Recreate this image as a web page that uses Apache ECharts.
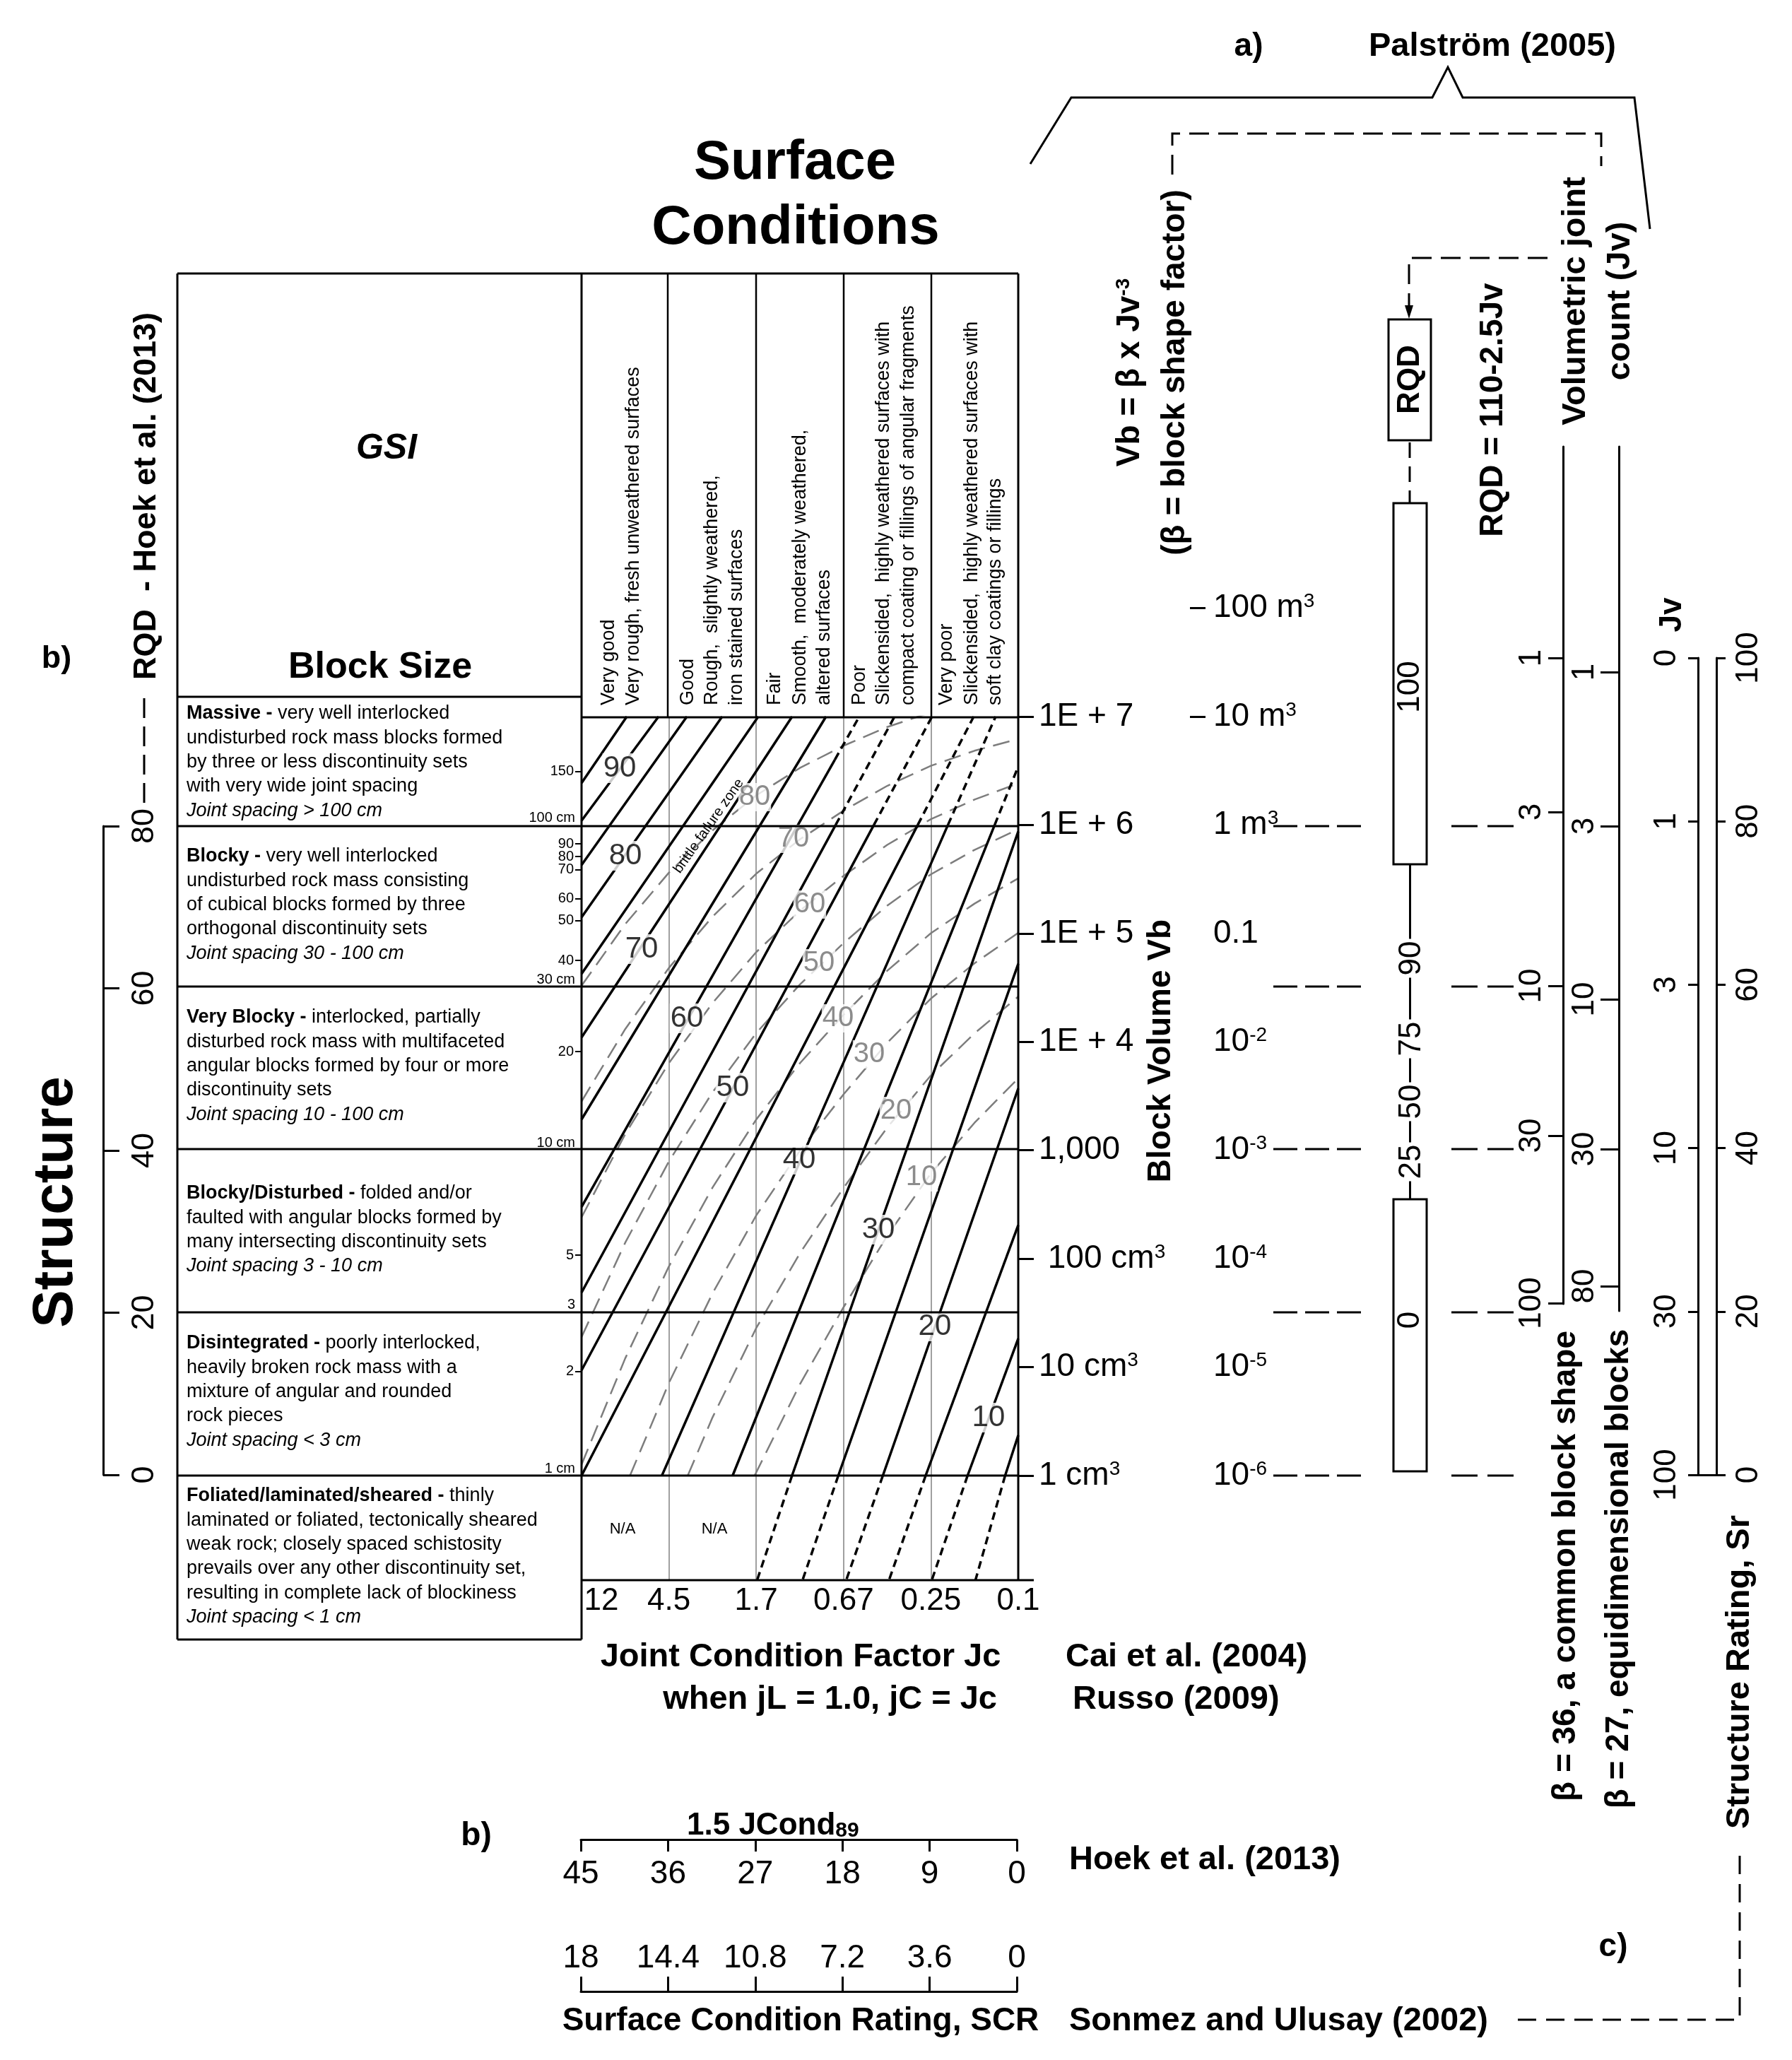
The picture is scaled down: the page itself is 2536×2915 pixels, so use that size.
<!DOCTYPE html>
<html>
<head>
<meta charset="utf-8">
<script src="https://cdn.jsdelivr.net/npm/echarts@6.0.0/dist/echarts.min.js"></script>
<style>html,body{margin:0;padding:0;background:#fff;}#chart{width:2536px;height:2915px;}</style>
</head>
<body>
<div id="chart"></div>
<script>
// ===================== DATA =====================
// Joint condition factor Jc (column boundaries of the surface-condition part)
const jcLabels = ['12', '4.5', '1.7', '0.67', '0.25', '0.1'];
// Bottom rating scales
const jcondTicks = [45, 36, 27, 18, 9, 0];
const scrTicks = [18, 14.4, 10.8, 7.2, 3.6, 0];
// Block volume scale (y unit = log10 of Vb in cm3)
const vbCmPos = [0, 1, 2, 3, 4, 5, 6, 7];
const vbCmLabels = ['1 cm{sup|3}', '10 cm{sup|3}', ' 100 cm{sup|3}', '1,000', '1E + 4', '1E + 5', '1E + 6', '1E + 7'];
const vbM3Pos = [0, 1, 2, 3, 4, 5, 6, 7, 8];
const vbM3Labels = ['10{sup|-6}', '10{sup|-5}', '10{sup|-4}', '10{sup|-3}', '10{sup|-2}', '0.1', '1 m{sup|3}', '10 m{sup|3}', '100 m{sup|3}'];
const vbM3TickPos = [7, 8];
// Joint spacing marks along the left edge of the chart (same y unit)
const spacingTickPos = [6.492, 5.826, 5.708, 5.590, 5.323, 5.121, 4.750, 3.910, 2.033, 0.961];
const spacingTickLabels = ['150', '90', '80', '70', '60', '50', '40', '20', '5', '2'];
const spacingCmPos = [6.0, 4.51, 3.0, 1.51, 0];
const spacingCmLabels = ['100 cm', '30 cm', '10 cm', '3', '1 cm'];
// Palstrom Jv scales (positions on the block-volume scale)
const jv36Pos = [7.541, 6.120, 4.517, 3.135, 1.590];
const jv36Labels = ['1', '3', '10', '30', '100'];
const jv27Pos = [7.411, 5.990, 4.393, 3.011, 1.747];
const jv27Labels = ['1', '3', '10', '30', '80'];
// Sonmez & Ulusay Jv / structure rating scale (positions in Sr units)
const jvSrPos = [100, 80, 60, 40, 20, 0];
const jvSrLabels = ['0', '1', '3', '10', '30', '100'];
// RQD bar
const rqdPos = [4.771, 4.028, 3.448, 2.894];
const rqdLabels = ['90', '75', '50', '25'];
const rqdBoxes = [[5.638, 8.968], [0.039, 2.548]];
const rqdBoxLabels = ['100', '0'];
const rqdBoxLabelPos = [7.274, 1.434];

// GSI contours, Cai et al. (2004) - black  (x = Jc column position 0..5, y = log10 Vb)
const caiSolid = [
  [[0, 6.387], [0.518, 7]],      // 95
  [[0, 6.040], [0.882, 7]],      // 90
  [[0, 5.631], [1.206, 7]],      // 85
  [[0, 5.149], [1.610, 7]],      // 80
  [[0, 4.627], [2.023, 7]],      // 75
  [[0, 4.041], [2.411, 7]],      // 70
  [[0, 3.285], [2.799, 7]],      // 65
  [[0, 2.477], [2.900, 6.602]],  // 60
  [[0, 1.688], [2.909, 6]],      // 55
  [[0, 0.971], [3.347, 6]],      // 50
  [[0, 0], [3.849, 6]],          // 45
  [[0.92, 0], [4.195, 6]],       // 40
  [[1.73, 0], [4.730, 6]],       // 35
  [[2.41, 0], [5, 5.94]],        // 30
  [[2.94, 0], [5, 4.72]],        // 25
  [[3.45, 0], [5, 3.57]],        // 20
  [[3.94, 0], [5, 2.31]],        // 15
  [[4.42, 0], [5, 1.264]],       // 10
  [[4.85, 0], [5, 0.371]]        // 5
];
const caiDashed = [
  [[2.900, 6.602], [3.180, 7]],
  [[2.909, 6], [3.584, 7]],
  [[3.347, 6], [4.013, 7]],
  [[3.849, 6], [4.490, 7]],
  [[4.195, 6], [4.741, 7]],
  [[4.730, 6], [5, 6.54]],
  [[2.41, 0], [2.01, -0.965]],
  [[2.94, 0], [2.53, -0.965]],
  [[3.45, 0], [3.03, -0.965]],
  [[3.94, 0], [3.52, -0.965]],
  [[4.42, 0], [4.01, -0.965]],
  [[4.85, 0], [4.51, -0.965]]
];
const caiLabels = [
  [0.437, 6.524, '90'], [0.502, 5.716, '80'], [0.688, 4.856, '70'], [1.206, 4.217, '60'],
  [1.731, 3.578, '50'], [2.492, 2.913, '40'], [3.398, 2.268, '30'], [4.045, 1.375, '20'], [4.660, 0.534, '10']
];
// GSI contours, Russo (2009) - grey dashed
const russo = [
  [[0, 4.518], [0.5, 5.086], [1, 5.560], [1.5, 5.951], [2, 6.273], [2.5, 6.526], [3, 6.731], [3.5, 6.904], [4, 7.039]],
  [[0, 3.451], [0.5, 4.118], [1, 4.682], [1.5, 5.155], [2, 5.551], [2.5, 5.868], [3, 6.132], [3.5, 6.361], [4, 6.546], [4.5, 6.685], [5, 6.794]],
  [[0, 2.382], [0.5, 3.149], [1, 3.804], [1.5, 4.358], [2, 4.828], [2.5, 5.209], [3, 5.531], [3.5, 5.817], [4, 6.054], [4.5, 6.235], [5, 6.384]],
  [[0, 1.278], [0.5, 2.148], [1, 2.897], [1.5, 3.535], [2, 4.081], [2.5, 4.529], [3, 4.911], [3.5, 5.256], [4, 5.545], [4.5, 5.771], [5, 5.960]],
  [[0, 0.101], [0.5, 1.081], [1, 1.929], [1.5, 2.657], [2, 3.284], [2.5, 3.803], [3, 4.250], [3.5, 4.656], [4, 5.002], [4.5, 5.275], [5, 5.508]],
  [[0.555, 0], [1, 0.854], [1.5, 1.681], [2, 2.399], [2.5, 2.996], [3, 3.516], [3.5, 3.991], [4, 4.399], [4.5, 4.725], [5, 5.006]],
  [[1.216, 0], [1.5, 0.537], [2, 1.361], [2.5, 2.050], [3, 2.654], [3.5, 3.210], [4, 3.691], [4.5, 4.079], [5, 4.417]],
  [[1.982, 0], [2.5, 0.842], [3, 1.553], [3.5, 2.212], [4, 2.787], [4.5, 3.254], [5, 3.664]]
];
const russoLabels = [
  [1.982, 6.257, '80'], [2.427, 5.872, '70'], [2.613, 5.266, '60'], [2.718, 4.725, '50'],
  [2.937, 4.217, '40'], [3.293, 3.884, '30'], [3.600, 3.363, '20'], [3.892, 2.750, '10']
];

// ===================== LAYOUT =====================
const F = '"Liberation Sans", Arial, Helvetica, sans-serif';
const Y0 = 2088, DEC = 153.43;           // pixel of Vb = 1 cm3, pixels per decade
const vy = p => (Y0 - p) / DEC;
const pick = (pos, labels) => v => { const i = pos.findIndex(p => Math.abs(p - v) < 1e-6); return i < 0 ? '' : labels[i]; };
const supRich = { sup: { fontSize: 28, verticalAlign: 'top', fontFamily: F, color: '#000' } };
const hidden = g => ({ gridIndex: g, type: 'value', show: false });

function T(x, y, text, o = {}) {
  const st = {
    text, fill: o.fill || '#000', fontFamily: F, fontSize: o.size || 27,
    fontWeight: o.bold ? 'bold' : 'normal', fontStyle: o.italic ? 'italic' : 'normal',
    align: o.align || 'center', verticalAlign: o.va || 'middle',
    textAlign: o.align || 'center', textVerticalAlign: o.va || 'middle'
  };
  if (o.rich) st.rich = o.rich;
  return { type: 'text', x, y, rotation: o.rot || 0, z: 20, silent: true, style: st };
}
function P(points, o = {}) {
  return { type: 'polyline', z: 15, silent: true, shape: { points },
    style: { stroke: o.color || '#000', lineWidth: o.w || 3, fill: null, lineDash: o.dash || null } };
}
const R90 = Math.PI / 2;

const graphics = [];
// ---- table frame ----
graphics.push(P([[251, 387], [1441, 387]]));
graphics.push(P([[251, 387], [251, 2320]]));
graphics.push(P([[251, 2320], [823, 2320]]));
graphics.push(P([[823, 387], [823, 2320]]));
graphics.push(P([[1441, 387], [1441, 2236]]));
[945, 1070, 1194, 1318].forEach(x => graphics.push(P([[x, 387], [x, 1015]], { w: 2.5 })));
graphics.push(P([[823, 1015], [1441, 1015]]));
graphics.push(P([[251, 986], [823, 986]]));
[1169, 1396, 1626, 1857, 2088].forEach(y => graphics.push(P([[251, y], [1441, y]])));
graphics.push(P([[823, 2236], [1463, 2236]]));

// ---- titles ----
graphics.push(T(1125, 231, 'Surface', { size: 78, bold: true }));
graphics.push(T(1126, 323, 'Conditions', { size: 78, bold: true }));
graphics.push(T(547, 635, 'GSI', { size: 50, bold: true, italic: true }));
graphics.push(T(538, 945, 'Block Size', { size: 52, bold: true }));
graphics.push(T(80, 1701, 'Structure', { size: 80, bold: true, rot: R90 }));
graphics.push(T(208, 702, 'RQD  - Hoek et al. (2013)', { size: 45, bold: true, rot: R90 }));
graphics.push(T(80, 933, 'b)', { size: 45, bold: true }));
graphics.push(P([[204, 988], [204, 1141]], { dash: [28, 12] }));

// ---- surface condition column headers ----
const headers = [
  [862, 'Very good'], [897, 'Very rough, fresh unweathered surfaces'],
  [974, 'Good'], [1008, 'Rough,  slightly weathered,'], [1043, 'iron stained surfaces'],
  [1097, 'Fair'], [1133, 'Smooth,  moderately weathered,'], [1167, 'altered surfaces'],
  [1217, 'Poor'], [1251, 'Slickensided,  highly weathered surfaces with'], [1286, 'compact coating or fillings of angular fragments'],
  [1340, 'Very poor'], [1376, 'Slickensided,  highly weathered surfaces with'], [1409, 'soft clay coatings or fillings']
];
headers.forEach(h => graphics.push(T(h[0], 998, h[1], { size: 27, rot: R90, align: 'left' })));

// ---- structure descriptions ----
const descRich = {
  b: { fontWeight: 'bold', fontSize: 27, fontFamily: F, color: '#000' },
  i: { fontStyle: 'italic', fontSize: 27, fontFamily: F, color: '#000' }
};
const descRows = [
  [1010, ['{b|Massive - }very well interlocked', 'undisturbed rock mass blocks formed', 'by three or less discontinuity sets', 'with very wide joint spacing', '{i|Joint spacing > 100 cm}']],
  [1212, ['{b|Blocky - }very well interlocked', 'undisturbed rock mass consisting', 'of cubical blocks formed by three', 'orthogonal discontinuity sets', '{i|Joint spacing 30 - 100 cm}']],
  [1440, ['{b|Very Blocky - }interlocked, partially', 'disturbed rock mass with multifaceted', 'angular blocks formed by four or more', 'discontinuity sets', '{i|Joint spacing 10 - 100 cm}']],
  [1689, ['{b|Blocky/Disturbed - }folded and/or', 'faulted with angular blocks formed by', 'many intersecting discontinuity sets', '{i|Joint spacing 3 - 10 cm}']],
  [1901, ['{b|Disintegrated - }poorly interlocked,', 'heavily broken rock mass with a', 'mixture of angular and rounded', 'rock pieces', '{i|Joint spacing < 3 cm}']],
  [2117, ['{b|Foliated/laminated/sheared - }thinly', 'laminated or foliated, tectonically sheared', 'weak rock; closely spaced schistosity', 'prevails over any other discontinuity set,', 'resulting in complete lack of blockiness', '{i|Joint spacing < 1 cm}']]
];
descRows.forEach(r => r[1].forEach((line, k) => graphics.push(T(264, r[0] + k * 34.3, line, { size: 27, align: 'left', rich: descRich }))));

graphics.push(T(881, 2164, 'N/A', { size: 22 }));
graphics.push(T(1011, 2164, 'N/A', { size: 22 }));
graphics.push(T(1003, 1169, 'brittle failure zone', { size: 20, rot: 0.96 }));

// ---- bottom texts ----
graphics.push(T(1133, 2345, 'Joint Condition Factor Jc', { size: 47, bold: true }));
graphics.push(T(1411, 2405, 'when jL = 1.0, jC = Jc', { size: 47, bold: true, align: 'right' }));
graphics.push(T(1508, 2345, 'Cai et al. (2004)', { size: 47, bold: true, align: 'left' }));
graphics.push(T(1518, 2405, 'Russo (2009)', { size: 47, bold: true, align: 'left' }));
graphics.push(T(674, 2598, 'b)', { size: 46, bold: true }));
graphics.push(T(972, 2584, '{a|1.5 JCond}{s|89}', { size: 44, bold: true, align: 'left',
  rich: { a: { fontSize: 44, fontWeight: 'bold', fontFamily: F, color: '#000' }, s: { fontSize: 30, fontWeight: 'bold', fontFamily: F, color: '#000', verticalAlign: 'bottom' } } }));
graphics.push(T(1513, 2632, 'Hoek et al. (2013)', { size: 47, bold: true, align: 'left' }));
graphics.push(T(1133, 2860, 'Surface Condition Rating, SCR', { size: 46, bold: true }));
graphics.push(T(1513, 2860, 'Sonmez and Ulusay (2002)', { size: 47, bold: true, align: 'left' }));

// ---- right side texts ----
graphics.push(T(1767, 66, 'a)', { size: 46, bold: true }));
graphics.push(T(2112, 66, 'Palström (2005)', { size: 47, bold: true }));
graphics.push(T(1599, 527, '{a|Vb = β x Jv}{s|-3}', { size: 46, bold: true, rot: R90,
  rich: { a: { fontSize: 46, fontWeight: 'bold', fontFamily: F, color: '#000' }, s: { fontSize: 28, fontWeight: 'bold', fontFamily: F, color: '#000', verticalAlign: 'top' } } }));
graphics.push(T(1663, 527, '(β = block shape factor)', { size: 46, bold: true, rot: R90 }));
graphics.push(T(2113, 580, 'RQD = 110-2.5Jv', { size: 46, bold: true, rot: R90 }));
graphics.push(T(2230, 426, 'Volumetric joint', { size: 47, bold: true, rot: R90 }));
graphics.push(T(2293, 426, 'count (Jv)', { size: 47, bold: true, rot: R90 }));
graphics.push({ type: 'rect', z: 15, silent: true, shape: { x: 1965, y: 452, width: 60, height: 171 }, style: { fill: '#fff', stroke: '#000', lineWidth: 3 } });
graphics.push(T(1996, 537, 'RQD', { size: 44, bold: true, rot: R90 }));
graphics.push(T(1643, 1487, 'Block Volume Vb', { size: 46, bold: true, rot: R90 }));
graphics.push(T(2367, 870, 'Jv', { size: 44, bold: true, rot: R90 }));
graphics.push(T(2216, 2216, 'β = 36, a common block shape', { size: 46, bold: true, rot: R90 }));
graphics.push(T(2291, 2220, 'β = 27, equidimensional blocks', { size: 46, bold: true, rot: R90 }));
graphics.push(T(2462, 2366, 'Structure Rating, Sr', { size: 47, bold: true, rot: R90 }));
graphics.push(T(2283, 2755, 'c)', { size: 46, bold: true }));

// ---- brackets & connectors ----
graphics.push(P([[1458, 232], [1516, 138], [2027, 138], [2049, 95], [2070, 138], [2313, 138], [2335, 324]]));
graphics.push(P([[1659, 247], [1659, 189], [2266, 189], [2266, 235]], { dash: [28, 13] }));
graphics.push(P([[2190, 365], [1994, 365], [1994, 440]], { dash: [28, 13] }));
graphics.push({ type: 'polygon', z: 15, silent: true, shape: { points: [[1988, 432], [2000, 432], [1994, 451]] }, style: { fill: '#000' } });
graphics.push(P([[1995, 626], [1995, 712]], { dash: [22, 12] }));
[1169, 1396, 1626, 1857, 2088].forEach(y => {
  graphics.push(P([[1802, y], [1936, y]], { dash: [34, 11] }));
  graphics.push(P([[2054, y], [2143, y]], { dash: [37, 14] }));
});
graphics.push(P([[2462, 2626], [2462, 2858], [2143, 2858]], { dash: [26, 14] }));

// ===================== AXES & SERIES =====================
const TOP = Y0 - 7 * DEC;
const YMIN = vy(2236);
const lab = (size, extra = {}) => Object.assign({ fontSize: size, fontFamily: F, color: '#000' }, extra);
const blackLine = { onZero: false, lineStyle: { color: '#000', width: 3 } };

const grids = [
  { left: 823, top: TOP, width: 618, height: 2236 - TOP },               // 0 main GSI chart
  { left: 1674, top: Y0 - 8 * DEC, width: 10, height: 8 * DEC },         // 1 m3 scale
  { left: 136, top: 1169, width: 10, height: 918 },                      // 2 structure / RQD (Hoek)
  { left: 822, top: 2603, width: 617, height: 40 },                      // 3 1.5 JCond89 (axis on top edge)
  { left: 822, top: 2818, width: 617, height: 40 },                      // 4 SCR
  { left: 2212, top: 632, width: 10, height: 1213 },                     // 5 Jv beta 36
  { left: 2291, top: 632, width: 10, height: 1223 },                     // 6 Jv beta 27
  { left: 2403, top: 931, width: 26, height: 1156 },                     // 7 Jv / Sr
  { left: 1972, top: 1223, width: 47, height: 474 }                      // 8 RQD bar
];

const xAxes = [
  { gridIndex: 0, type: 'value', min: 0, max: 5, interval: 1, position: 'bottom',
    axisLine: { show: false, onZero: false }, axisTick: { show: false },
    splitLine: { show: true, lineStyle: { color: '#a0a0a0', width: 2 } },
    axisLabel: lab(44, { margin: 8, formatter: v => v === 0 ? '{l|' + jcLabels[0] + '}' : jcLabels[Math.round(v)],
      rich: { l: { fontSize: 44, fontFamily: F, color: '#000', padding: [0, 0, 0, 56] } } }) },
  hidden(1), hidden(2),
  { gridIndex: 3, type: 'value', min: 0, max: 45, inverse: true, position: 'top',
    axisLine: blackLine, splitLine: { show: false },
    axisTick: { show: true, inside: true, customValues: jcondTicks, length: 17, lineStyle: { color: '#000', width: 3 } },
    axisLabel: lab(46, { inside: true, customValues: jcondTicks, margin: 26 }) },
  { gridIndex: 4, type: 'value', min: 0, max: 18, inverse: true, position: 'top',
    axisLine: blackLine, splitLine: { show: false },
    axisTick: { show: true, inside: false, customValues: scrTicks, length: 21, lineStyle: { color: '#000', width: 3 } },
    axisLabel: lab(46, { customValues: scrTicks, margin: 24, formatter: v => String(Math.round(v * 10) / 10) }) },
  hidden(5), hidden(6),
  { gridIndex: 7, type: 'value', min: 0, max: 1, axisLine: blackLine, axisTick: { show: false }, axisLabel: { show: false }, splitLine: { show: false } },
  { gridIndex: 8, type: 'value', min: -1, max: 1, show: false }
];

const yAxes = [
  // 0: block volume labels (cm3 / scientific)
  { gridIndex: 0, type: 'value', min: YMIN, max: 7, position: 'right', offset: 0,
    axisLine: { show: false, onZero: false }, splitLine: { show: false },
    axisTick: { customValues: vbCmPos, length: 22, lineStyle: { color: '#000', width: 3 } },
    axisLabel: lab(46, { customValues: vbCmPos, margin: 29, formatter: pick(vbCmPos, vbCmLabels), rich: supRich }) },
  // 1: joint spacing ticks
  { gridIndex: 0, type: 'value', min: YMIN, max: 7, position: 'left', offset: 0,
    axisLine: { show: false, onZero: false }, splitLine: { show: false },
    axisTick: { customValues: spacingTickPos, length: 9, lineStyle: { color: '#000', width: 2 } },
    axisLabel: lab(20, { customValues: spacingTickPos, margin: 11, formatter: pick(spacingTickPos, spacingTickLabels) }) },
  // 2: joint spacing boundaries (labels sit above the row lines)
  { gridIndex: 0, type: 'value', min: YMIN, max: 7, position: 'left', offset: 0,
    axisLine: { show: false, onZero: false }, splitLine: { show: false }, axisTick: { show: false },
    axisLabel: lab(20, { customValues: spacingCmPos, margin: 9, verticalAlign: 'bottom', formatter: pick(spacingCmPos, spacingCmLabels) }) },
  // 3: m3 labels
  { gridIndex: 1, type: 'value', min: 0, max: 8, position: 'right', offset: 0,
    axisLine: { show: false, onZero: false }, splitLine: { show: false },
    axisTick: { customValues: vbM3TickPos, length: 22, lineStyle: { color: '#000', width: 3 } },
    axisLabel: lab(46, { customValues: vbM3Pos, margin: 33, formatter: pick(vbM3Pos, vbM3Labels), rich: supRich }) },
  // 4: structure (RQD Hoek) scale
  { gridIndex: 2, type: 'value', min: 0, max: 80, interval: 20, position: 'right',
    axisLine: blackLine, splitLine: { show: false },
    axisTick: { length: 23, lineStyle: { color: '#000', width: 3 } },
    axisLabel: lab(45, { rotate: 90, margin: 36 }) },
  hidden(3), hidden(4),
  // 7: Jv beta=36
  { gridIndex: 5, type: 'value', min: vy(1845), max: vy(632), position: 'left',
    axisLine: blackLine, splitLine: { show: false },
    axisTick: { customValues: jv36Pos, length: 21, lineStyle: { color: '#000', width: 3 } },
    axisLabel: lab(44, { customValues: jv36Pos, rotate: 90, margin: 22, formatter: pick(jv36Pos, jv36Labels) }) },
  // 8: Jv beta=27
  { gridIndex: 6, type: 'value', min: vy(1855), max: vy(632), position: 'left',
    axisLine: blackLine, splitLine: { show: false },
    axisTick: { customValues: jv27Pos, length: 26, lineStyle: { color: '#000', width: 3 } },
    axisLabel: lab(44, { customValues: jv27Pos, rotate: 90, margin: 26, formatter: pick(jv27Pos, jv27Labels) }) },
  // 9: Jv (Sonmez & Ulusay)
  { gridIndex: 7, type: 'value', min: 0, max: 100, position: 'left',
    axisLine: blackLine, splitLine: { show: false },
    axisTick: { customValues: jvSrPos, length: 14, lineStyle: { color: '#000', width: 3 } },
    axisLabel: lab(44, { customValues: jvSrPos, rotate: 90, margin: 22, formatter: pick(jvSrPos, jvSrLabels) }) },
  // 10: Structure rating Sr
  { gridIndex: 7, type: 'value', min: 0, max: 100, interval: 20, position: 'right',
    axisLine: blackLine, splitLine: { show: false },
    axisTick: { length: 13, lineStyle: { color: '#000', width: 3 } },
    axisLabel: lab(44, { rotate: 90, margin: 24 }) },
  // 11: RQD bar
  { gridIndex: 8, type: 'value', min: vy(1697), max: vy(1223), position: 'left', offset: -23.5,
    axisLine: blackLine, splitLine: { show: false }, axisTick: { show: false },
    axisLabel: lab(44, { customValues: rqdPos, rotate: 90, margin: -24, backgroundColor: '#fff', padding: [0, 3],
      formatter: pick(rqdPos, rqdLabels) }) }
];

const series = [];
caiSolid.forEach(pts => series.push({ type: 'line', xAxisIndex: 0, yAxisIndex: 0, data: pts, symbol: 'none', silent: true, z: 3,
  lineStyle: { color: '#000', width: 3.5 } }));
caiDashed.forEach(pts => series.push({ type: 'line', xAxisIndex: 0, yAxisIndex: 0, data: pts, symbol: 'none', silent: true, z: 3,
  lineStyle: { color: '#000', width: 3.5, type: [11, 7] } }));
russo.forEach(pts => series.push({ type: 'line', xAxisIndex: 0, yAxisIndex: 0, data: pts, symbol: 'none', silent: true, z: 2,
  lineStyle: { color: '#7d7d7d', width: 2.5, type: [24, 12] } }));
series.push({ type: 'scatter', xAxisIndex: 0, yAxisIndex: 0, data: caiLabels, symbolSize: 1, silent: true, z: 6,
  itemStyle: { color: 'rgba(0,0,0,0)' },
  label: { show: true, position: 'inside', formatter: p => p.data[2], fontSize: 42, fontFamily: F, color: '#000', backgroundColor: '#fff', padding: [0, 1] } });
series.push({ type: 'scatter', xAxisIndex: 0, yAxisIndex: 0, data: russoLabels, symbolSize: 1, silent: true, z: 6,
  itemStyle: { color: 'rgba(0,0,0,0)' },
  label: { show: true, position: 'inside', formatter: p => p.data[2], fontSize: 40, fontFamily: F, color: '#6f6f6f', backgroundColor: '#fff', padding: [0, 1] } });
series.push({ type: 'custom', xAxisIndex: 8, yAxisIndex: 11, silent: true, z: 5, clip: false,
  data: rqdBoxes.map((b, i) => [0, b[0], b[1], rqdBoxLabelPos[i]]),
  renderItem: (params, api) => {
    const lo = api.coord([0, api.value(1)]), hi = api.coord([0, api.value(2)]), lp = api.coord([0, api.value(3)]);
    const w = 47;
    return { type: 'group', children: [
      { type: 'rect', shape: { x: lo[0] - w / 2, y: hi[1], width: w, height: lo[1] - hi[1] }, style: { fill: '#fff', stroke: '#000', lineWidth: 3 } },
      { type: 'text', x: lp[0], y: lp[1], rotation: R90,
        style: { text: rqdBoxLabels[params.dataIndex], fontSize: 44, fontFamily: F, fill: '#000', align: 'center', verticalAlign: 'middle' } }
    ] };
  } });

const chart = echarts.init(document.getElementById('chart'), null, { renderer: 'canvas', width: 2536, height: 2915 });
chart.setOption({
  backgroundColor: '#fff',
  animation: false,
  grid: grids,
  xAxis: xAxes,
  yAxis: yAxes,
  series,
  graphic: { elements: graphics }
});
</script>
</body>
</html>
